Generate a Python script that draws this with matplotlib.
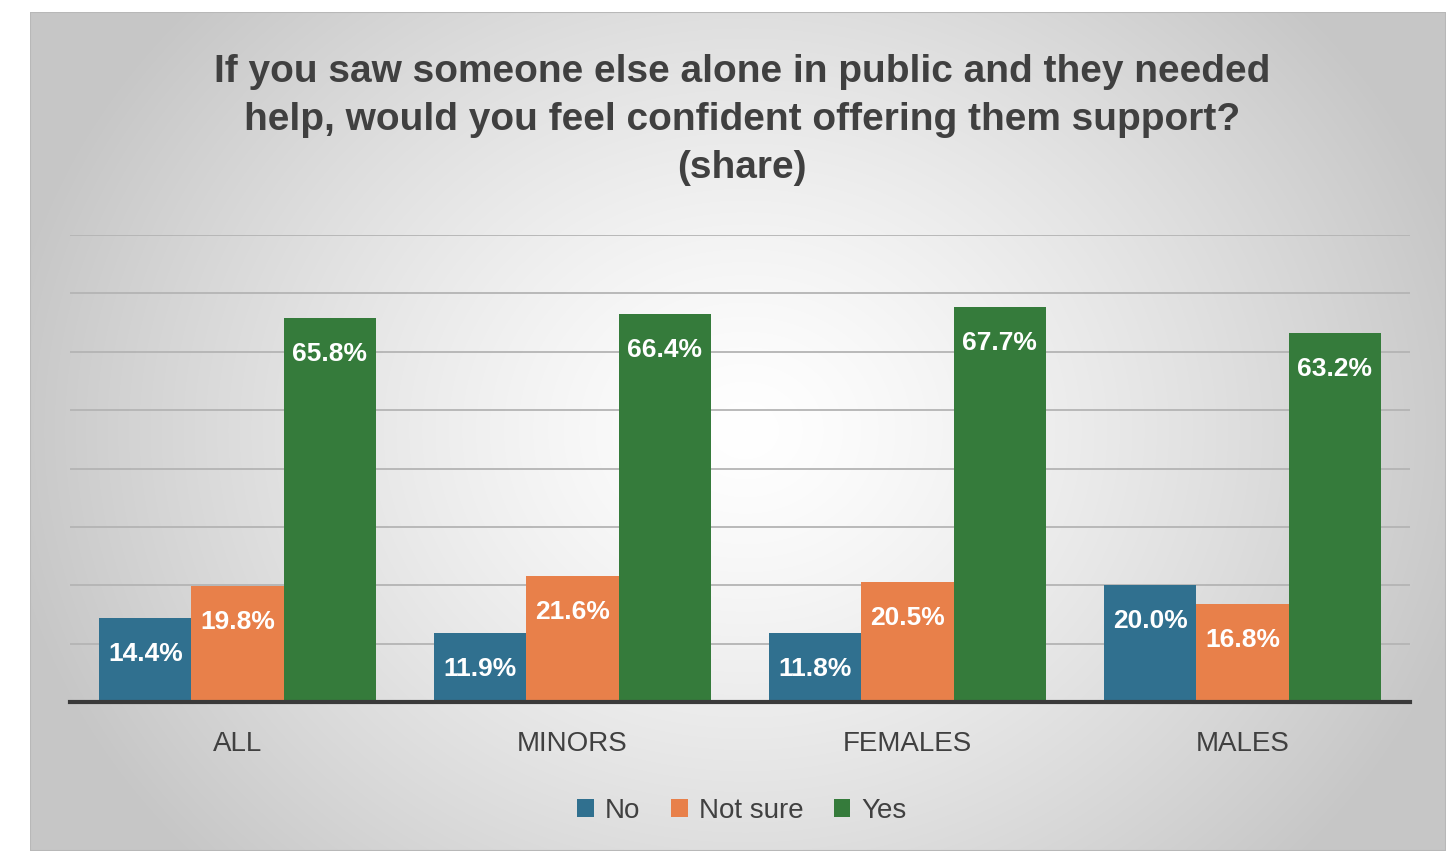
import numpy as np
import matplotlib.pyplot as plt
from matplotlib.patches import Patch, Rectangle

# =========================
# DATA
# =========================
categories = ["ALL", "MINORS", "FEMALES", "MALES"]
series_names = ["No", "Not sure", "Yes"]
no_vals = [14.4, 11.9, 11.8, 20.0]
not_sure_vals = [19.8, 21.6, 20.5, 16.8]
yes_vals = [65.8, 66.4, 67.7, 63.2]

colors = ["#30708F", "#E8804A", "#357B3B"]
title = ("If you saw someone else alone in public and they needed\n"
         "help, would you feel confident offering them support?\n"
         "(share)")

W, H = 1453, 851
fig = plt.figure(figsize=(W / 100, H / 100), dpi=100)
fig.patch.set_facecolor("white")

# =========================
# BACKGROUND PANEL (radial gradient)
# =========================
px0, px1, py0, py1 = 30, 1446, 12, 851
bg = fig.add_axes([px0 / W, 0, (px1 - px0) / W, (py1 - py0) / H])
bg.set_axis_off()
yy, xx = np.mgrid[py0:py1, px0:px1]
r = np.sqrt(((xx - 745) / 820.0) ** 2 + ((yy - 430) / 700.0) ** 2)
shade = np.clip(1.0 - 0.25 * r ** 1.3, 0.78, 1.0)
bg.imshow(np.dstack([shade] * 3), aspect="auto", extent=[0, 1, 0, 1],
          interpolation="bilinear")
bg.set_xlim(0, 1)
bg.set_ylim(0, 1)
bg.add_patch(Rectangle((0, 0), 1, 1, transform=bg.transAxes, fill=False,
                       edgecolor="#b8b8b8", linewidth=1.5))

# =========================
# BARS
# =========================
ax = fig.add_axes([70 / W, 149 / H, 1340 / W, 467 / H])
ax.patch.set_alpha(0)
x = np.arange(len(categories))
bw = 0.275
for i, vals in enumerate([no_vals, not_sure_vals, yes_vals]):
    pos = x + (i - 1) * bw
    ax.bar(pos, vals, width=bw, color=colors[i], zorder=3,
           label=series_names[i])
    for xp, v in zip(pos, vals):
        ax.annotate(f"{v:.1f}%", (xp, v), xytext=(0, -36),
                    textcoords="offset pixels", ha="center", va="center",
                    color="white", fontsize=19, fontweight="bold",
                    family="Liberation Sans", zorder=4)

ax.set_xlim(-0.5, 3.5)
ax.set_ylim(0, 80)
ax.set_yticks(np.arange(10, 81, 10))
ax.yaxis.grid(True, color="#b4b4b4", linewidth=1.3, zorder=0)
ax.tick_params(axis="y", left=False, labelleft=False)
ax.tick_params(axis="x", length=0, pad=21, labelsize=20, labelcolor="#404040")
ax.set_xticks(x)
ax.set_xticklabels(categories, family="Liberation Sans")
for s in ["top", "right", "left"]:
    ax.spines[s].set_visible(False)
ax.spines["bottom"].set_color("#3a3a3a")
ax.spines["bottom"].set_linewidth(3)
ax.spines["bottom"].set_zorder(5)

# =========================
# TITLE AND LEGEND
# =========================
fig.text(742 / W, 1 - 120 / H, title, ha="center", va="center",
         fontsize=28, fontweight="bold", color="#404040",
         family="Liberation Sans", linespacing=1.42)

handles = [Patch(facecolor=c, label=n) for c, n in zip(colors, series_names)]
fig.legend(handles=handles, loc="center", bbox_to_anchor=(742 / W, 1 - 811 / H),
           ncol=3, frameon=False, handlelength=0.6, handleheight=0.6,
           handletextpad=0.4, columnspacing=1.1,
           prop={"family": "Liberation Sans", "size": 20}, labelcolor="#404040")

fig.savefig("out.png", dpi=100)
